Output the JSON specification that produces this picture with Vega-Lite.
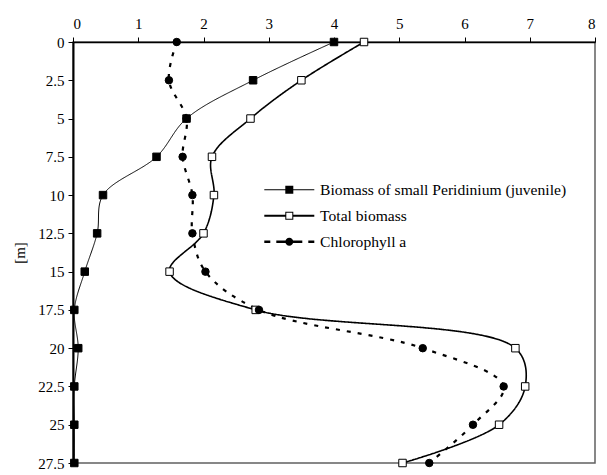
{
  "$schema": "https://vega.github.io/schema/vega-lite/v6.json",
  "width": 522,
  "height": 421,
  "autosize": "none",
  "padding": {"left": 73, "top": 42, "right": 12, "bottom": 12},
  "background": "white",
  "config": {
    "view": {"stroke": "#606060", "strokeWidth": 1.5},
    "font": "Liberation Serif"
  },
  "data": {
    "values": [
      {"series": "Biomass of small Peridinium (juvenile)", "depth": 0, "value": 4.0},
      {"series": "Biomass of small Peridinium (juvenile)", "depth": 2.5, "value": 2.76},
      {"series": "Biomass of small Peridinium (juvenile)", "depth": 5, "value": 1.74},
      {"series": "Biomass of small Peridinium (juvenile)", "depth": 7.5, "value": 1.28},
      {"series": "Biomass of small Peridinium (juvenile)", "depth": 10, "value": 0.46},
      {"series": "Biomass of small Peridinium (juvenile)", "depth": 12.5, "value": 0.37},
      {"series": "Biomass of small Peridinium (juvenile)", "depth": 15, "value": 0.18},
      {"series": "Biomass of small Peridinium (juvenile)", "depth": 17.5, "value": 0.02},
      {"series": "Biomass of small Peridinium (juvenile)", "depth": 20, "value": 0.08},
      {"series": "Biomass of small Peridinium (juvenile)", "depth": 22.5, "value": 0.02},
      {"series": "Biomass of small Peridinium (juvenile)", "depth": 25, "value": 0.02},
      {"series": "Biomass of small Peridinium (juvenile)", "depth": 27.5, "value": 0.02},
      {"series": "Total biomass", "depth": 0, "value": 4.46},
      {"series": "Total biomass", "depth": 2.5, "value": 3.5},
      {"series": "Total biomass", "depth": 5, "value": 2.72},
      {"series": "Total biomass", "depth": 7.5, "value": 2.13},
      {"series": "Total biomass", "depth": 10, "value": 2.16},
      {"series": "Total biomass", "depth": 12.5, "value": 2.0},
      {"series": "Total biomass", "depth": 15, "value": 1.48},
      {"series": "Total biomass", "depth": 17.5, "value": 2.8},
      {"series": "Total biomass", "depth": 20, "value": 6.78},
      {"series": "Total biomass", "depth": 22.5, "value": 6.93},
      {"series": "Total biomass", "depth": 25, "value": 6.53},
      {"series": "Total biomass", "depth": 27.5, "value": 5.05},
      {"series": "Chlorophyll a", "depth": 0, "value": 1.59},
      {"series": "Chlorophyll a", "depth": 2.5, "value": 1.47},
      {"series": "Chlorophyll a", "depth": 5, "value": 1.74},
      {"series": "Chlorophyll a", "depth": 7.5, "value": 1.68},
      {"series": "Chlorophyll a", "depth": 10, "value": 1.83},
      {"series": "Chlorophyll a", "depth": 12.5, "value": 1.83},
      {"series": "Chlorophyll a", "depth": 15, "value": 2.03},
      {"series": "Chlorophyll a", "depth": 17.5, "value": 2.85},
      {"series": "Chlorophyll a", "depth": 20, "value": 5.36},
      {"series": "Chlorophyll a", "depth": 22.5, "value": 6.6},
      {"series": "Chlorophyll a", "depth": 25, "value": 6.13},
      {"series": "Chlorophyll a", "depth": 27.5, "value": 5.46}
    ]
  },
  "encoding": {
    "x": {
      "field": "value", "type": "quantitative",
      "scale": {"domain": [0, 8], "nice": false, "zero": false},
      "axis": {
        "orient": "top", "values": [0,1,2,3,4,5,6,7,8], "title": null, "grid": false,
        "tickSize": 5, "tickColor": "black", "domainColor": "black", "domainWidth": 1.5,
        "labelFont": "Liberation Serif", "labelFontSize": 15, "labelColor": "black", "labelPadding": 6
      }
    },
    "y": {
      "field": "depth", "type": "quantitative",
      "scale": {"domain": [0, 27.5], "nice": false, "zero": false, "reverse": true},
      "axis": {
        "values": [0,2.5,5,7.5,10,12.5,15,17.5,20,22.5,25,27.5], "labelExpr": "datum.value + ''",
        "title": "[m]", "grid": false,
        "tickSize": 5, "tickColor": "black", "domainColor": "black", "domainWidth": 2,
        "labelFont": "Liberation Serif", "labelFontSize": 15, "labelColor": "black", "labelPadding": 4,
        "titleFont": "Liberation Serif", "titleFontSize": 15, "titleFontWeight": "normal", "titleColor": "black", "titlePadding": 10
      }
    }
  },
  "resolve": {"scale": {"shape": "independent"}},
  "layer": [
    {
      "mark": {"type": "line", "interpolate": "catmull-rom", "color": "black"},
      "encoding": {
        "order": {"field": "depth", "type": "quantitative"},
        "detail": {"field": "series", "type": "nominal"},
        "strokeDash": {
          "field": "series", "type": "nominal",
          "scale": {"domain": ["Biomass of small Peridinium (juvenile)", "Total biomass", "Chlorophyll a"], "range": [[1,0],[1,0],[4,7]]},
          "legend": null
        },
        "strokeWidth": {
          "field": "series", "type": "nominal",
          "scale": {"domain": ["Biomass of small Peridinium (juvenile)", "Total biomass", "Chlorophyll a"], "range": [1, 2.2, 2.6]},
          "legend": null
        }
      }
    },
    {
      "mark": {"type": "point", "filled": false, "stroke": "black", "strokeWidth": 1, "opacity": 1},
      "encoding": {
        "shape": {
          "field": "series", "type": "nominal",
          "scale": {"domain": ["Biomass of small Peridinium (juvenile)", "Total biomass", "Chlorophyll a"], "range": ["square", "square", "circle"]},
          "legend": null
        },
        "fill": {
          "field": "series", "type": "nominal",
          "scale": {"domain": ["Biomass of small Peridinium (juvenile)", "Total biomass", "Chlorophyll a"], "range": ["black", "white", "black"]},
          "legend": null
        },
        "size": {
          "field": "series", "type": "nominal",
          "scale": {"domain": ["Biomass of small Peridinium (juvenile)", "Total biomass", "Chlorophyll a"], "range": [56, 56, 50]},
          "legend": null
        }
      }
    },
    {
      "mark": {"type": "point", "filled": true, "color": "black", "opacity": 0, "size": 4},
      "encoding": {
        "shape": {
          "field": "series", "type": "nominal",
          "scale": {
            "domain": ["Biomass of small Peridinium (juvenile)", "Total biomass", "Chlorophyll a"],
            "range": [
              "M-25,-0.5H25V0.5H-25ZM-4,-4H4V4H-4Z",
              "M-25,-1H-4V1H-25ZM4,-1H25V1H4ZM-4,-4H4V4H-4ZM-3,-3V3H3V-3Z",
              "M-25,-1.25H-19V1.25H-25ZM-13,-1.25H-3V1.25H-13ZM3,-1.25H13V1.25H3ZM19,-1.25H25V1.25H19ZM4,0A4,4,0,1,1,-4,0A4,4,0,1,1,4,0Z"
            ]
          },
          "legend": {
            "title": null, "orient": "none", "legendX": 191, "legendY": 140, "padding": 0,
            "symbolSize": 4, "symbolOpacity": 1, "symbolStrokeWidth": 0, "symbolFillColor": "black",
            "symbolOffset": 17.5, "labelOffset": 23, "rowPadding": 9, "labelLimit": 0,
            "labelFont": "Liberation Serif", "labelFontSize": 15.6, "labelColor": "black"
          }
        }
      }
    }
  ]
}
